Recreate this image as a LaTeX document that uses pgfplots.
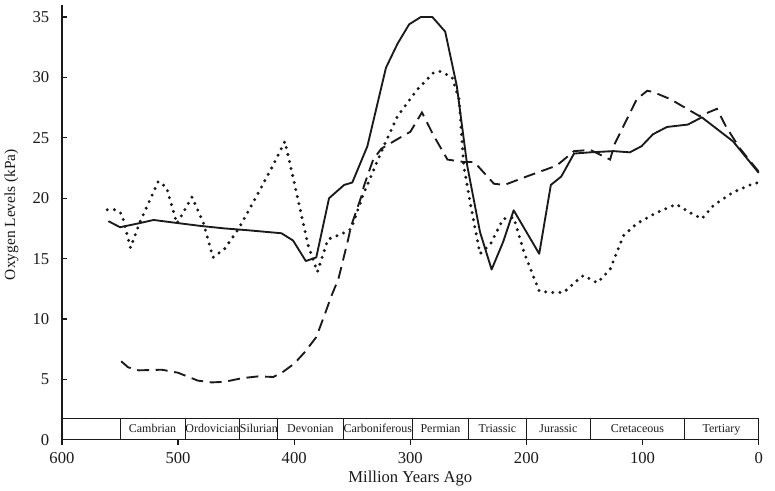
\documentclass[border=0pt]{standalone}
\usepackage{fontspec}
\setmainfont{Liberation Serif}
\usepackage{pgfplots}
\pgfplotsset{compat=1.18}
\definecolor{Ink}{HTML}{1A1A1A}
\tikzset{period/.style={font=\fontsize{9}{10}\selectfont,text=Ink,inner sep=0pt,anchor=base}}

\begin{document}
\begin{tikzpicture}
  \begin{axis}[
      name=ax,
      scale only axis,
      width=524pt, height=327pt,
      x dir=reverse,
      xmin=0, xmax=600,
      ymin=0, ymax=36,
      xtick={0,100,200,300,400,500,600},
      ytick={0,5,10,15,20,25,30,35},
      axis x line*=bottom,
      axis y line*=left,
      axis line style={draw=Ink,line width=1pt,-},
      x tick style={draw=Ink,line width=0.9pt},
      y tick style={draw=Ink,line width=0.9pt},
      xtick align=outside,
      ytick align=inside,
      major tick length=4pt,
      /pgf/number format/assume math mode=true,
      tick label style={font=\fontsize{12.5}{14}\selectfont,color=Ink},
      yticklabel style={xshift=-6pt},
      xticklabel style={yshift=-2pt},
      xlabel={Million Years Ago},
      ylabel={Oxygen Levels (kPa)},
      every axis x label/.style={at={(axis description cs:0.5,0)},anchor=center,yshift=-29pt,
        font=\fontsize{12.5}{14}\selectfont,text=Ink},
      every axis y label/.style={at={(axis description cs:0,0.518)},rotate=90,anchor=center,yshift=38pt,
        font=\fontsize{11.6}{13}\selectfont,text=Ink},
      clip=false]

    % geological time band
    \draw[Ink,line width=0.7pt] (axis cs:600,0) rectangle (axis cs:0,1.8);
    \pgfplotsinvokeforeach{550,494,447,414,358,298,250,200,145,64}{
      \draw[Ink,line width=0.7pt] (axis cs:#1,0) -- (axis cs:#1,1.8);
    }
    \node[period] at (axis cs:522,0.62) {Cambrian};
    \node[period] at (axis cs:470.5,0.62) {Ordovician};
    \node[period] at (axis cs:430.5,0.62) {Silurian};
    \node[period] at (axis cs:386,0.62) {Devonian};
    \node[period] at (axis cs:328,0.62) {Carboniferous};
    \node[period] at (axis cs:274,0.62) {Permian};
    \node[period] at (axis cs:225,0.62) {Triassic};
    \node[period] at (axis cs:172.5,0.62) {Jurassic};
    \node[period] at (axis cs:104.5,0.62) {Cretaceous};
    \node[period] at (axis cs:32,0.62) {Tertiary};

    % solid
    \addplot[Ink,line width=1.4pt,line join=round] coordinates {
      (560,18.1)(550,17.6)(535,17.9)(521,18.2)(501,17.95)(480,17.7)(460,17.5)(440,17.35)(411,17.1)
      (401,16.5)(390,14.8)(381,15.1)(370,20.0)(357,21.1)(350,21.3)(337,24.3)(321,30.8)(311,32.8)
      (301,34.4)(291,35.0)(281,35.0)(270,33.8)(260,29.3)(251,22.7)(240,17.2)(230,14.1)(220,16.4)
      (211,19.0)(189,15.4)(179,21.1)(170,21.8)(159,23.7)(145,23.8)(125,23.9)(111,23.8)(101,24.3)
      (91,25.3)(79,25.9)(61,26.1)(49,26.7)(22,24.7)(0,22.1)};

    % dashed
    \addplot[Ink,line width=1.4pt,dash pattern=on 9pt off 5pt] coordinates {
      (549,6.5)(543,6.0)(534,5.75)(514,5.8)(500,5.55)(483,4.9)(471,4.75)(460,4.8)(445,5.1)
      (431,5.25)(418,5.2)(410,5.6)(400,6.3)(391,7.25)(381,8.5)(374,10.3)(368,11.9)(362,13.3)
      (354,16.4)(351,17.7)(342,20.2)(340,21.0)(332,23.2)(325,24.1)(311,24.9)(300,25.5)(290,27.1)
      (280,25.2)(268,23.2)(254,23.0)(245,23.0)(228,21.2)(219,21.1)(197,21.9)(174,22.7)(159,23.9)
      (145,24.0)(128,23.2)(124,24.5)(105,28.2)(96,28.9)(91,28.8)(76,28.2)(51,26.8)(36,27.4)
      (28,25.9)(16,24.1)(0,22.2)};

    % dotted
    \addplot[Ink,line width=2.5pt,line cap=round,dash pattern=on 0pt off 5.4pt] coordinates {
      (561,19.05)(554,19.05)(548.5,18.7)(541,15.9)(533,18.0)(517,21.4)(510,20.9)(501,17.9)
      (488,20.1)(478,17.9)(470,15.1)(460,15.8)(448,17.45)(434,19.9)(420,22.4)(408,24.7)(400,21.3)
      (388,16.1)(380,13.9)(371,16.6)(360,17.0)(351,17.45)(341,20.2)(323,24.3)(311,26.8)(294,29.0)
      (280,30.4)(274,30.5)(264,30.0)(258,28.2)(254,22.7)(248,19.4)(240,15.4)(231,16.2)(220,18.3)
      (211,18.4)(202,15.5)(189,12.3)(179,12.2)(168,12.2)(155,13.3)(151,13.6)(139,13.0)(128,14.1)
      (116.5,16.9)(105,17.9)(88,18.8)(71,19.5)(59,18.8)(49,18.3)(39,19.4)(22,20.5)(5,21.2)(0,21.3)};
  \end{axis}
  \path (ax.south west) ++(-45pt,-37.5pt) rectangle ++(581.25pt,368.25pt);
\end{tikzpicture}
\end{document}
